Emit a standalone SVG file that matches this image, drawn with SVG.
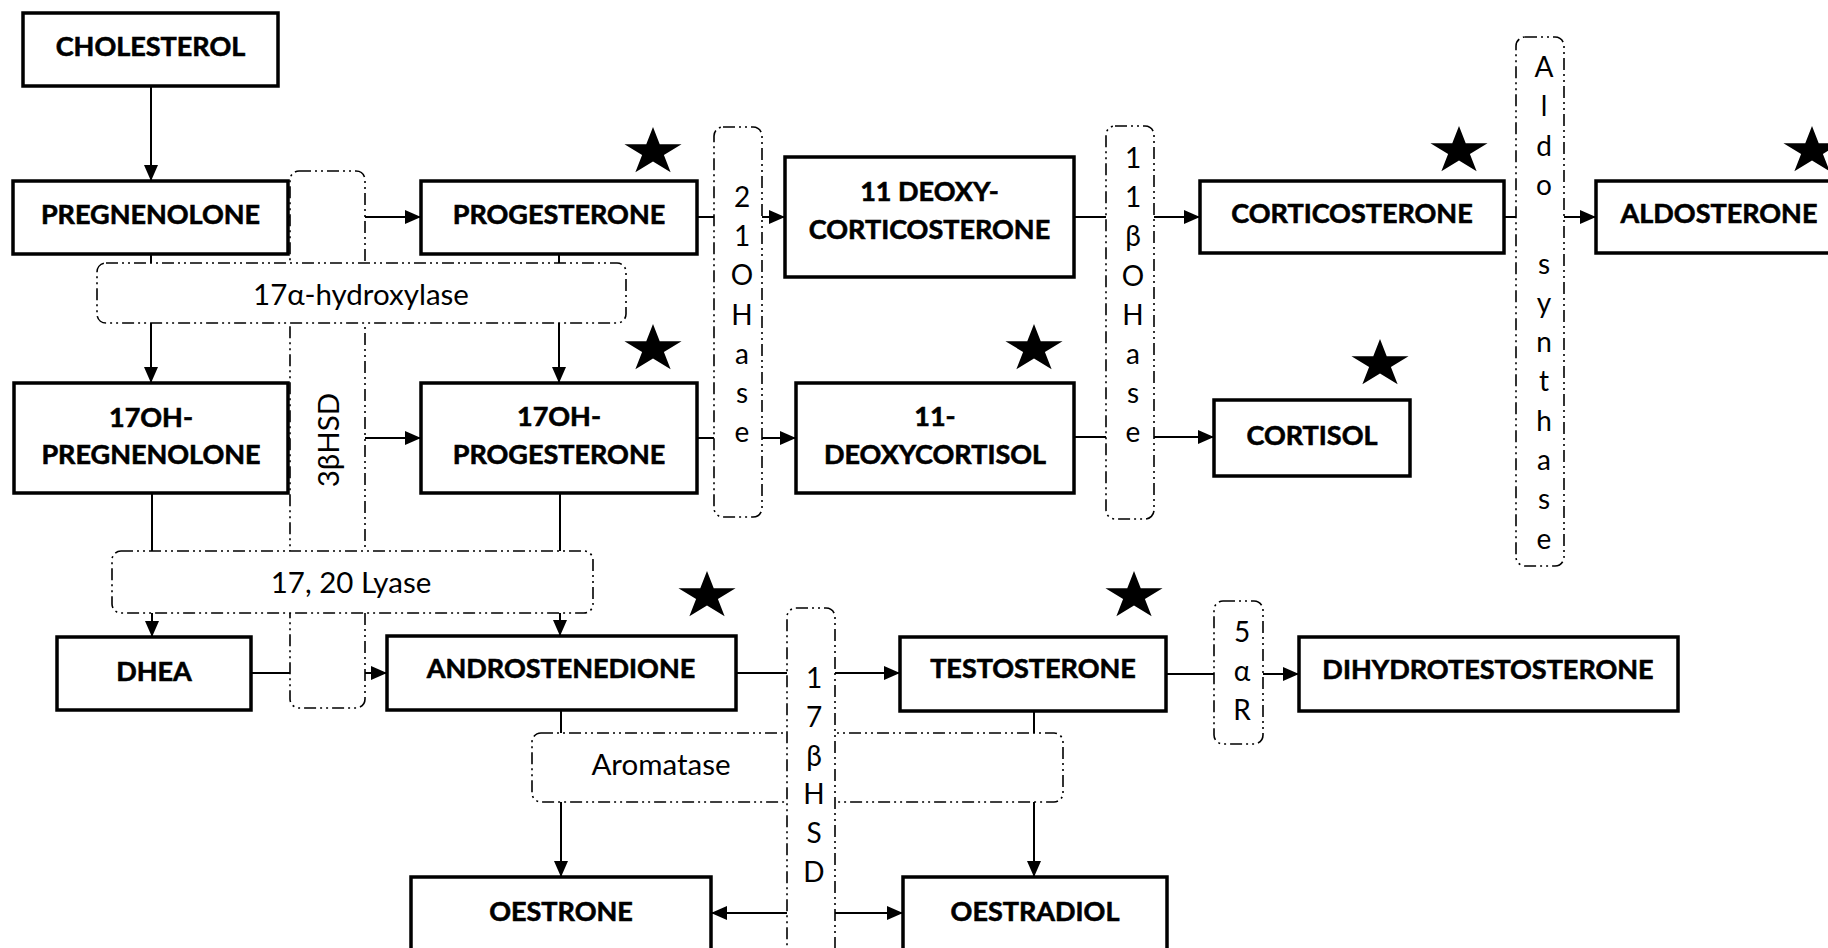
<svg xmlns="http://www.w3.org/2000/svg" xmlns:xlink="http://www.w3.org/1999/xlink" width="1828" height="948" viewBox="0 0 1828 948">
<style>
.node rect{fill:#fff;stroke:#000;stroke-width:3.5}
.node text{font-family:Lato,"Open Sans","Liberation Sans",sans-serif;font-weight:bold;font-size:27px;text-anchor:middle;fill:#000;stroke:#000;stroke-width:0.6}
.enz rect{fill:#fff;stroke:#000;stroke-width:1.6;stroke-dasharray:12 4 2 4 2 4}
.enz text{font-family:Lato,"Open Sans","Liberation Sans",sans-serif;font-size:28px;text-anchor:middle;fill:#000}
.enz text.h{font-size:29.5px}
.conn line{stroke:#000;stroke-width:2;fill:none;marker-end:url(#arr)}
</style>
<defs>
<marker id="arr" markerUnits="userSpaceOnUse" markerWidth="18" markerHeight="16" refX="16" refY="7" orient="auto">
<path d="M0,0 L16,7 L0,14 Z" fill="#000"/>
</marker>
<path id="star" d="M0,-25 L6.73,-7.73 L28.54,-7.73 L10.9,2.95 L17.63,20.23 L0,9.55 L-17.63,20.23 L-10.9,2.95 L-28.54,-7.73 L-6.73,-7.73 Z" fill="#000"/>
</defs>
<rect x="0" y="0" width="1828" height="948" fill="#fff"/>

<g id="connectors" class="conn">
<line x1="151" y1="86" x2="151" y2="181"/>
<line x1="288" y1="217" x2="421" y2="217"/>
<line x1="151" y1="254" x2="151" y2="383"/>
<line x1="559" y1="254" x2="559" y2="383"/>
<line x1="288" y1="438" x2="421" y2="438"/>
<line x1="152" y1="493" x2="152" y2="637"/>
<line x1="560" y1="493" x2="560" y2="636"/>
<line x1="251" y1="673" x2="387" y2="673"/>
<line x1="697" y1="217" x2="785" y2="217"/>
<line x1="697" y1="438" x2="796" y2="438"/>
<line x1="1074" y1="217" x2="1200" y2="217"/>
<line x1="1074" y1="437" x2="1214" y2="437"/>
<line x1="1504" y1="217" x2="1596" y2="217"/>
<line x1="736" y1="673" x2="900" y2="673"/>
<line x1="1166" y1="674" x2="1299" y2="674"/>
<line x1="561" y1="710" x2="561" y2="877"/>
<line x1="1034" y1="711" x2="1034" y2="877"/>
<line x1="787" y1="913" x2="711" y2="913"/>
<line x1="835" y1="913" x2="903" y2="913"/>
</g>

<g id="enz-3bhsd" class="enz">
<rect x="290" y="171" width="75" height="537" rx="9"/>
<text class="h" transform="translate(339,440) rotate(-90)">3βHSD</text>
</g>
<g id="enz-17a" class="enz">
<rect x="97" y="263" width="529" height="60" rx="9"/>
<text class="h" x="361" y="305">17α-hydroxylase</text>
</g>
<g id="enz-lyase" class="enz">
<rect x="112" y="551" width="481" height="62" rx="9"/>
<text class="h" x="351" y="593">17, 20 Lyase</text>
</g>
<g id="enz-21oh" class="enz">
<rect x="714" y="127" width="48" height="390" rx="9"/>
<text x="742" y="207"><tspan x="742">2</tspan><tspan x="742" dy="39.2">1</tspan><tspan x="742" dy="39.2">O</tspan><tspan x="742" dy="39.2">H</tspan><tspan x="742" dy="39.2">a</tspan><tspan x="742" dy="39.2">s</tspan><tspan x="742" dy="39.2">e</tspan></text>
</g>
<g id="enz-11boh" class="enz">
<rect x="1106" y="126" width="48" height="393" rx="9"/>
<text x="1133" y="168"><tspan x="1133">1</tspan><tspan x="1133" dy="39.2">1</tspan><tspan x="1133" dy="39.2">β</tspan><tspan x="1133" dy="39.2">O</tspan><tspan x="1133" dy="39.2">H</tspan><tspan x="1133" dy="39.2">a</tspan><tspan x="1133" dy="39.2">s</tspan><tspan x="1133" dy="39.2">e</tspan></text>
</g>
<g id="enz-aldo" class="enz">
<rect x="1516" y="37" width="48" height="529" rx="9"/>
<text x="1544" y="77"><tspan x="1544">A</tspan><tspan x="1544" dy="39.3">l</tspan><tspan x="1544" dy="39.3">d</tspan><tspan x="1544" dy="39.3">o</tspan><tspan x="1544" dy="78.6">s</tspan><tspan x="1544" dy="39.3">y</tspan><tspan x="1544" dy="39.3">n</tspan><tspan x="1544" dy="39.3">t</tspan><tspan x="1544" dy="39.3">h</tspan><tspan x="1544" dy="39.3">a</tspan><tspan x="1544" dy="39.3">s</tspan><tspan x="1544" dy="39.3">e</tspan></text>
</g>
<g id="enz-aromatase" class="enz">
<rect x="532" y="733" width="531" height="69" rx="9"/>
<text class="h" x="661" y="775">Aromatase</text>
</g>
<g id="enz-17bhsd" class="enz">
<rect x="787" y="608" width="48" height="380" rx="9"/>
<text x="814" y="688"><tspan x="814">1</tspan><tspan x="814" dy="38.8">7</tspan><tspan x="814" dy="38.8">β</tspan><tspan x="814" dy="38.8">H</tspan><tspan x="814" dy="38.8">S</tspan><tspan x="814" dy="38.8">D</tspan></text>
</g>
<g id="enz-5ar" class="enz">
<rect x="1214" y="601" width="49" height="143" rx="9"/>
<text x="1242" y="642"><tspan x="1242">5</tspan><tspan x="1242" dy="39">α</tspan><tspan x="1242" dy="39">R</tspan></text>
</g>

<g id="cholesterol" class="node"><rect x="23" y="13" width="255" height="73"/><text x="150.5" y="56">CHOLESTEROL</text></g>
<g id="pregnenolone" class="node"><rect x="13" y="181" width="275" height="73"/><text x="150.5" y="224">PREGNENOLONE</text></g>
<g id="progesterone" class="node"><rect x="421" y="181" width="276" height="73"/><text x="559" y="224">PROGESTERONE</text></g>
<g id="deoxycorticosterone" class="node"><rect x="785" y="157" width="289" height="120"/><text x="929.5" y="201">11 DEOXY-</text><text x="929.5" y="239">CORTICOSTERONE</text></g>
<g id="corticosterone" class="node"><rect x="1200" y="181" width="304" height="72"/><text x="1352" y="223">CORTICOSTERONE</text></g>
<g id="aldosterone" class="node"><rect x="1596" y="181" width="260" height="72"/><text x="1719" y="223">ALDOSTERONE</text></g>
<g id="oh-pregnenolone" class="node"><rect x="14" y="383" width="274" height="110"/><text x="151" y="427">17OH-</text><text x="151" y="464">PREGNENOLONE</text></g>
<g id="oh-progesterone" class="node"><rect x="421" y="383" width="276" height="110"/><text x="559" y="426">17OH-</text><text x="559" y="464">PROGESTERONE</text></g>
<g id="deoxycortisol" class="node"><rect x="796" y="383" width="278" height="110"/><text x="935" y="426">11-</text><text x="935" y="464">DEOXYCORTISOL</text></g>
<g id="cortisol" class="node"><rect x="1214" y="400" width="196" height="76"/><text x="1312" y="445">CORTISOL</text></g>
<g id="dhea" class="node"><rect x="57" y="637" width="194" height="73"/><text x="154" y="681">DHEA</text></g>
<g id="androstenedione" class="node"><rect x="387" y="636" width="349" height="74"/><text x="561" y="678">ANDROSTENEDIONE</text></g>
<g id="testosterone" class="node"><rect x="900" y="637" width="266" height="74"/><text x="1033" y="678">TESTOSTERONE</text></g>
<g id="dht" class="node"><rect x="1299" y="637" width="379" height="74"/><text x="1488" y="679">DIHYDROTESTOSTERONE</text></g>
<g id="oestrone" class="node"><rect x="411" y="877" width="300" height="100"/><text x="561" y="921">OESTRONE</text></g>
<g id="oestradiol" class="node"><rect x="903" y="877" width="264" height="100"/><text x="1035" y="921">OESTRADIOL</text></g>

<g id="stars">
<use xlink:href="#star" transform="translate(653,152)"/>
<use xlink:href="#star" transform="translate(653,349)"/>
<use xlink:href="#star" transform="translate(1034,349)"/>
<use xlink:href="#star" transform="translate(1459,151)"/>
<use xlink:href="#star" transform="translate(1812,151)"/>
<use xlink:href="#star" transform="translate(1380,364)"/>
<use xlink:href="#star" transform="translate(707,596)"/>
<use xlink:href="#star" transform="translate(1134,596)"/>
</g>
</svg>
